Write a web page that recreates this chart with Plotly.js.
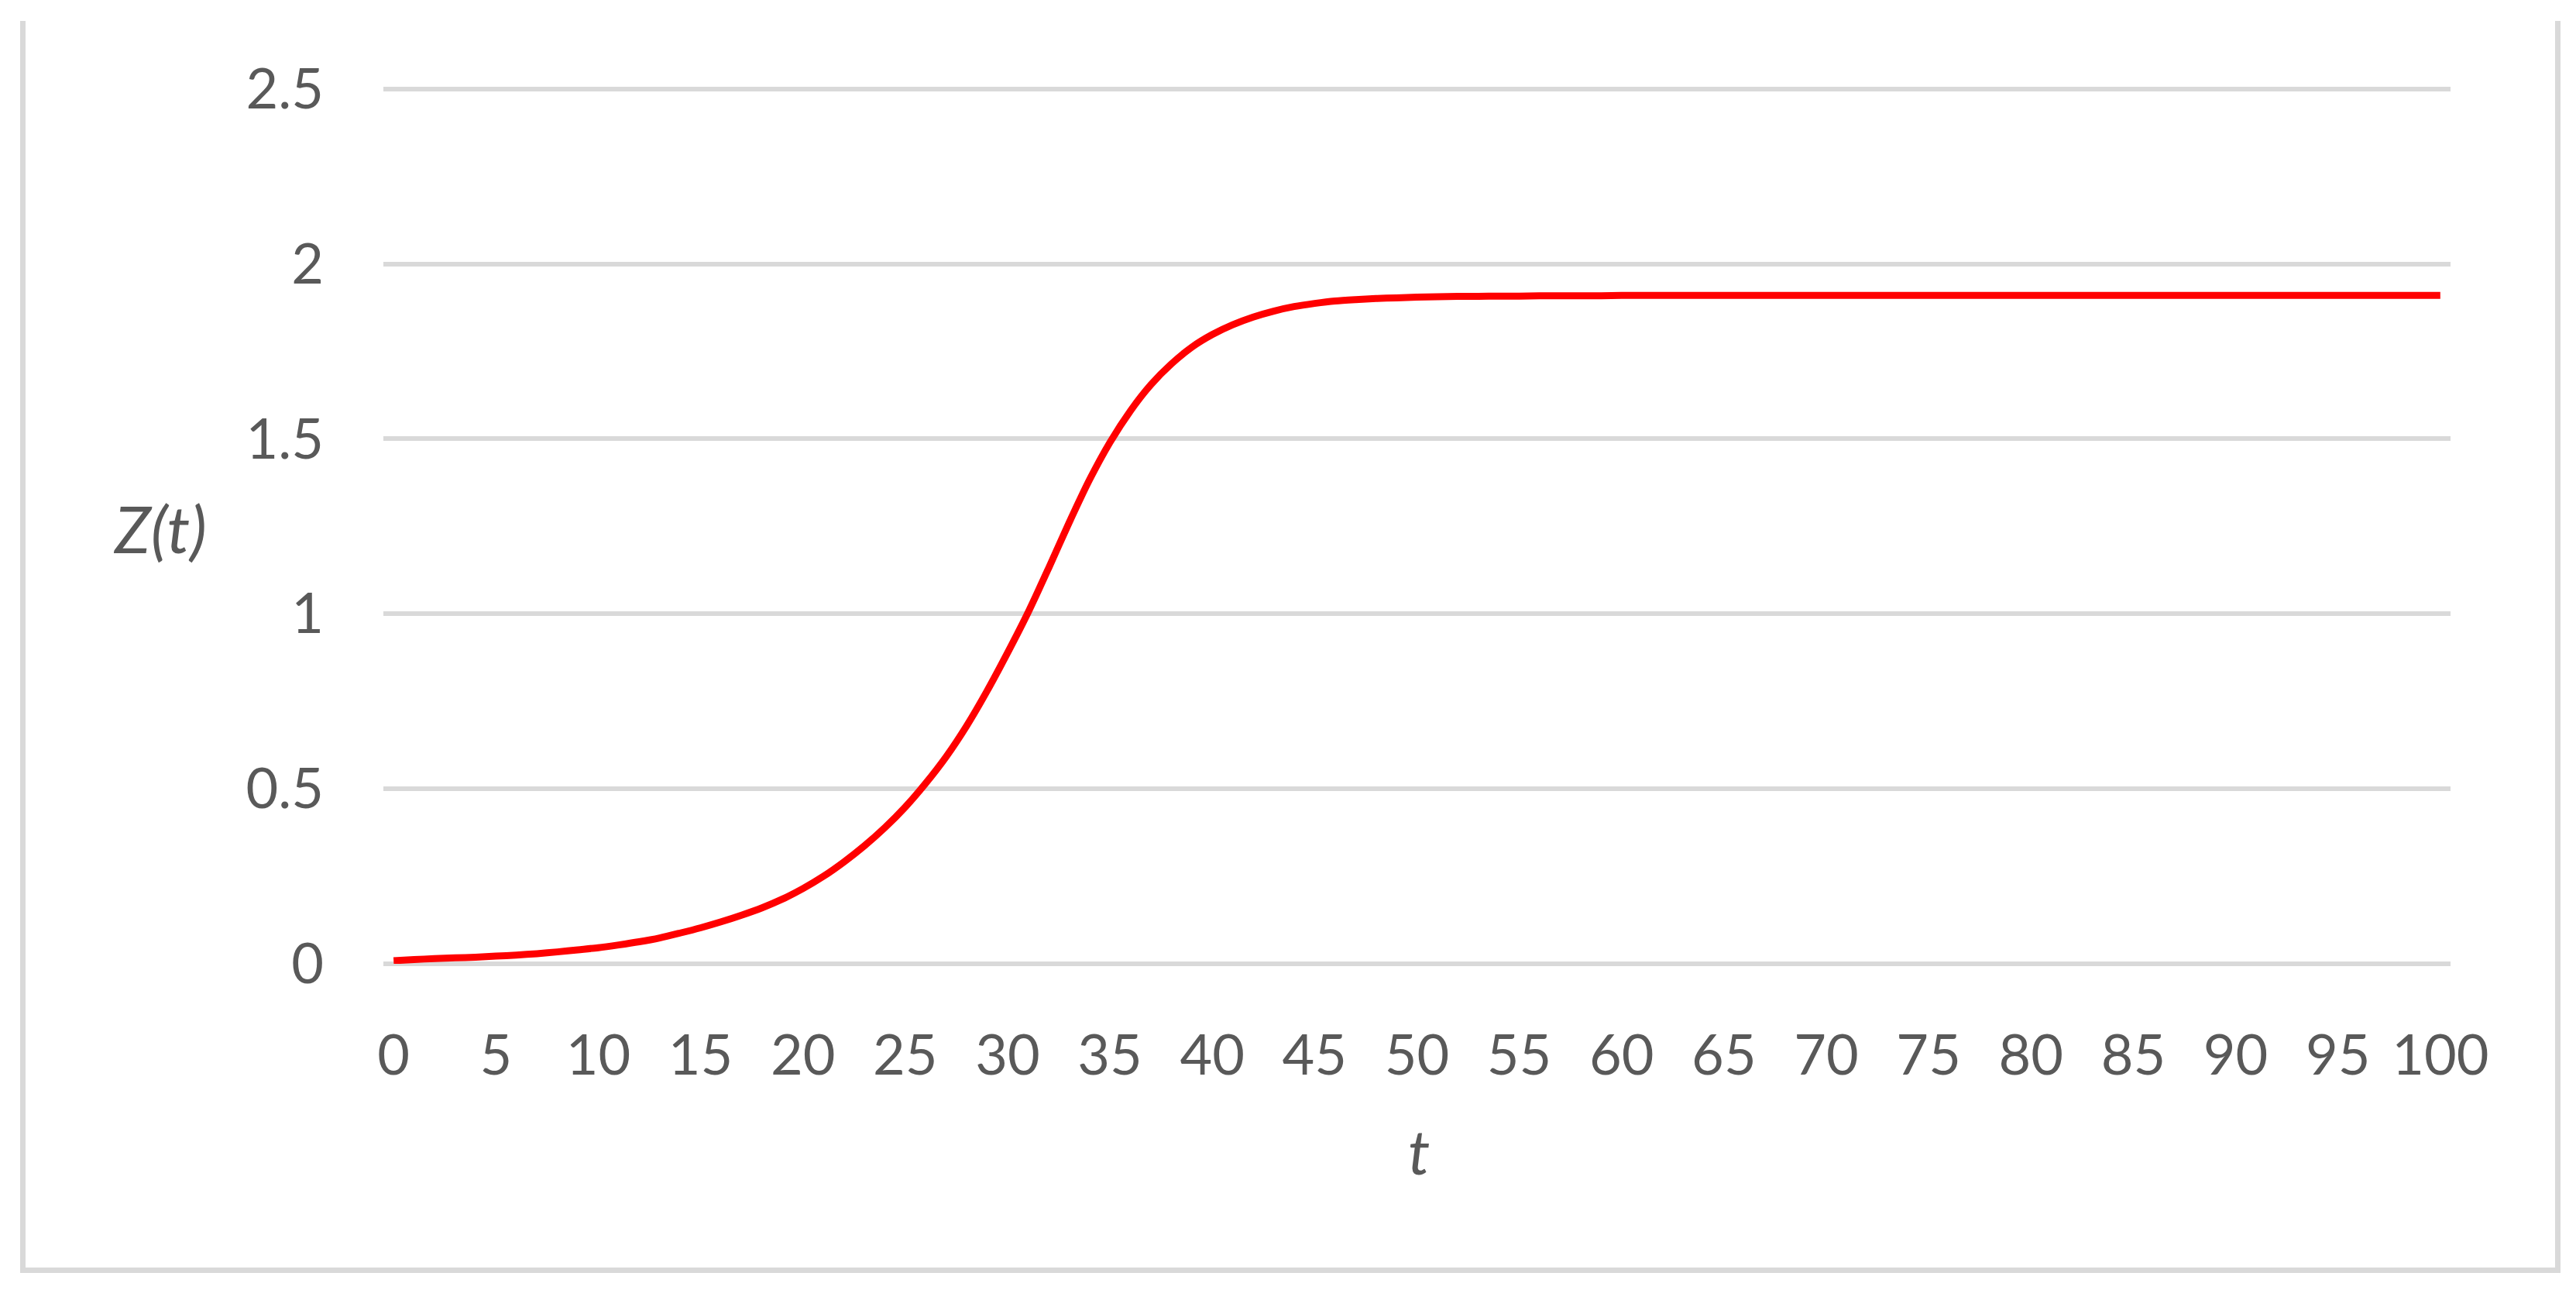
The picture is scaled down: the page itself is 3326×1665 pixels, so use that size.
<!DOCTYPE html>
<html>
<head>
<meta charset="utf-8">
<script src="https://cdn.plot.ly/plotly-3.0.1.min.js"></script>
<style>
    html, body { margin: 0; padding: 0; background: #ffffff; }
    #wrap { position: relative; width: 3326px; height: 1665px; }
    #plotly-graph { width: 3326px; height: 1665px; }
    #frame {
        position: absolute; left: 26px; top: 27px; width: 3280px; height: 1616px;
        box-sizing: border-box; border: 7px solid #d9d9d9; border-top: none;
        pointer-events: none;
    }
</style>
</head>
<body>
<div id="wrap">
    <div id="plotly-graph"></div>
    <div id="frame"></div>
</div>
<script>
    // t = 0..100
    var tValues = [];
    for (var i = 0; i <= 100; i++) tValues.push(i);

    // Z(t)
    var zStart = [
        0.009, 0.012, 0.015, 0.017, 0.019, 0.022, 0.025, 0.029, 0.034, 0.040,
        0.046, 0.054, 0.063, 0.074, 0.088, 0.103, 0.120, 0.139, 0.160, 0.185,
        0.215, 0.250, 0.291, 0.337, 0.389, 0.448, 0.516, 0.592, 0.680, 0.780,
        0.889, 1.004, 1.130, 1.260, 1.383, 1.490, 1.580, 1.655, 1.714, 1.762,
        1.798, 1.826, 1.848, 1.865, 1.878, 1.887, 1.894, 1.898, 1.901, 1.903,
        1.905, 1.906, 1.907, 1.907, 1.908, 1.908, 1.909, 1.909, 1.909, 1.909
    ];
    var zPlateau = 1.91;   // flat from t = 60 on
    var zValues = zStart.slice();
    while (zValues.length < tValues.length) zValues.push(zPlateau);

    var xTicks = [0, 5, 10, 15, 20, 25, 30, 35, 40, 45, 50, 55, 60, 65, 70, 75, 80, 85, 90, 95, 100];
    var yTicks = [0, 0.5, 1, 1.5, 2, 2.5];

    var grey = '#595959';

    var trace1 = {
        x: tValues,
        y: zValues,
        mode: 'lines',
        line: { color: '#ff0000', width: 9, shape: 'spline', smoothing: 0.8 },
        hoverinfo: 'skip'
    };

    var layout = {
        width: 3326,
        height: 1665,
        showlegend: false,
        paper_bgcolor: '#ffffff',
        plot_bgcolor: '#ffffff',
        font: { family: 'Lato, "Open Sans", sans-serif', color: grey, size: 72 },
        margin: { l: 495, r: 162, t: 112, b: 421, pad: 0 },
        xaxis: {
            range: [-0.5, 100.5],
            tickmode: 'array',
            tickvals: xTicks,
            ticktext: xTicks.map(String),
            showgrid: false,
            zeroline: false,
            showline: false,
            ticks: '',
            ticklabelstandoff: 70,
            tickfont: { size: 72, color: grey },
            fixedrange: true
        },
        yaxis: {
            range: [0, 2.506],   // a hair above 2.5 so the top grid line is drawn
            tickmode: 'array',
            tickvals: yTicks,
            ticktext: yTicks.map(String),
            showgrid: true,
            gridcolor: '#d9d9d9',
            gridwidth: 6,
            zeroline: true,
            zerolinecolor: '#d9d9d9',
            zerolinewidth: 6,
            showline: false,
            ticks: '',
            ticklabelstandoff: 76,
            tickfont: { size: 72, color: grey },
            fixedrange: true
        },
        annotations: [
            {
                text: '<i>Z(t)</i>', xref: 'paper', yref: 'paper',
                x: -0.108, y: 0.497, xanchor: 'center', yanchor: 'middle',
                showarrow: false, font: { size: 84, color: grey }
            },
            {
                text: '<i>t</i>', xref: 'paper', yref: 'paper',
                x: 0.501, y: -0.213, xanchor: 'center', yanchor: 'middle',
                showarrow: false, font: { size: 80, color: grey }
            }
        ]
    };

    Plotly.newPlot('plotly-graph', [trace1], layout, { displayModeBar: false, staticPlot: true });
</script>
</body>
</html>
